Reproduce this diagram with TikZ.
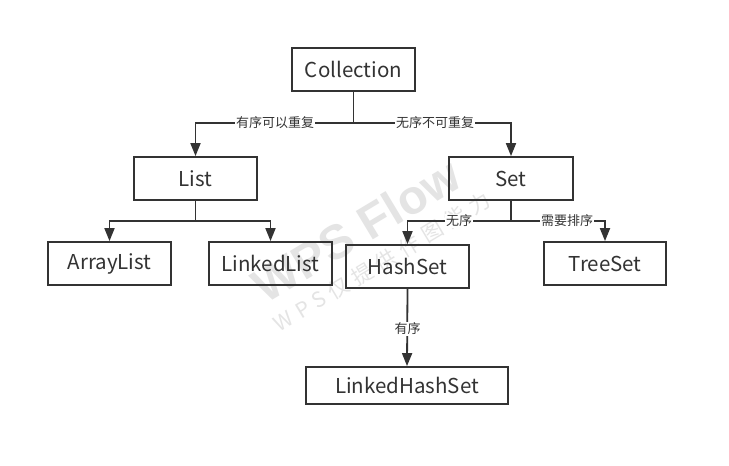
\documentclass[tikz,border=0pt]{standalone}
\usepackage{fontspec}
\setmainfont{Noto Sans CJK SC}
\newfontfamily\wmfont{Liberation Sans}
\newfontfamily\wmcjk[LetterSpace=30]{Noto Sans CJK SC}
\usetikzlibrary{arrows.meta}
\definecolor{ink}{HTML}{333333}
\definecolor{wm}{HTML}{E4E4E4}
\tikzset{
  box/.style={draw=ink, line width=1.8pt, fill=none, minimum height=43pt, inner sep=0pt, text=ink, font=\fontsize{20.5}{24}\selectfont},
  conn/.style={draw=ink, line width=1.8pt, -{Triangle[length=13pt,width=10pt]}},
  lbl/.style={fill=white, inner sep=1pt, text=ink, font=\fontsize{13}{15}\selectfont},
}
\begin{document}
\begin{tikzpicture}[x=1pt,y=-1pt]
\useasboundingbox (0,0) rectangle (729,466);
\fill[white] (0,0) rectangle (729,466);
% watermark
\node[text=wm, font=\wmfont\bfseries\fontsize{48}{52}\selectfont, rotate=31, inner sep=0pt] (wm1) at (356,230) {WPS Flow};
\node[text=wm, font=\wmcjk\fontsize{21}{24}\selectfont, rotate=31, inner sep=0pt] (wm2) at (382,262) {WPS仅提供作图能力};
% nodes
\node[box, minimum width=123pt] (coll) at (353.5,69.5) {Collection};
\node[box, minimum width=123pt] (list) at (195.5,178.5) {List};
\node[box, minimum width=124pt] (set) at (511,178.5) {Set};
\node[box, minimum width=123pt] (arr) at (109.5,263.5) {ArrayList};
\node[box, minimum width=123pt] (lnk) at (270.5,263.5) {LinkedList};
\node[box, minimum width=123pt] (hash) at (407.5,266.5) {HashSet};
\node[box, minimum width=122pt] (tree) at (605,263.5) {TreeSet};
\node[box, minimum width=202pt, minimum height=37pt] (lhs) at (407,385.5) {LinkedHashSet};
% connectors
\draw[conn] (coll.south) -- ++(0,31) -| (list.north);
\draw[conn] (coll.south) -- ++(0,31) -| (set.north);
\node[lbl] (l1) at (275,123) {有序可以重复};
\node[lbl] (l2) at (435,123) {无序不可重复};
\draw[conn] (list.south) -- ++(0,20) -| (arr.north);
\draw[conn] (list.south) -- ++(0,20) -| (lnk.north);
\draw[conn] (set.south) -- ++(0,20) -| (hash.north);
\draw[conn] (set.south) -- ++(0,20) -| (tree.north);
\node[lbl] (l3) at (459,221) {无序};
\node[lbl] (l4) at (567,221) {需要排序};
\draw[conn] (hash.south) -- (lhs.north);
\node[lbl] (l5) at (407.5,329) {有序};
\end{tikzpicture}
\end{document}
